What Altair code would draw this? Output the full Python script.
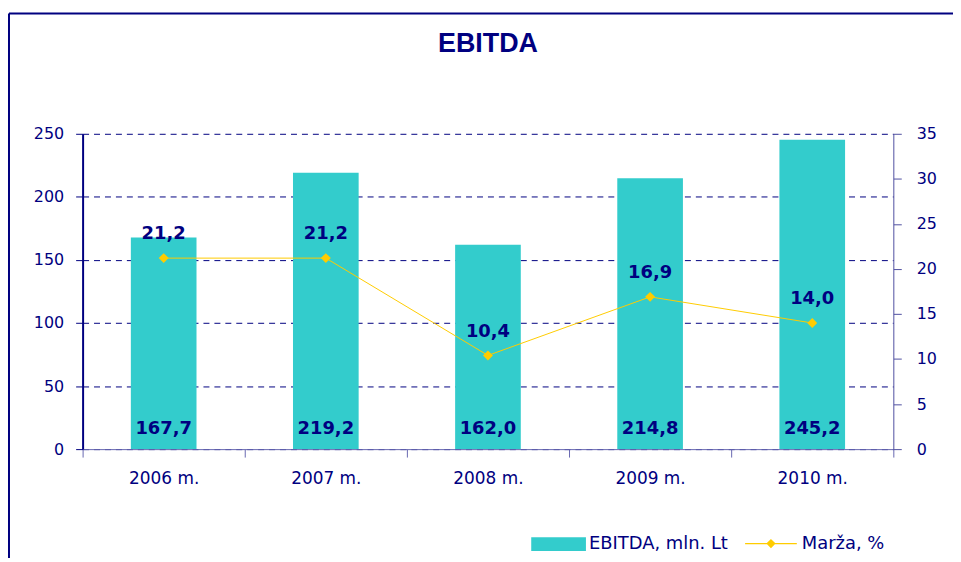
import altair as alt
import pandas as pd

NAVY = "#000080"
TEAL = "#33CCCC"
GOLD = "#FFCC00"

years = ["2006 m.", "2007 m.", "2008 m.", "2009 m.", "2010 m."]
ebitda = [167.7, 219.2, 162.0, 214.8, 245.2]
margin = [21.2, 21.2, 10.4, 16.9, 14.0]
left_ticks = [0, 50, 100, 150, 200, 250]
right_ticks = [0, 5, 10, 15, 20, 25, 30, 35]
series_bar = "EBITDA, mln. Lt"
series_line = "Marža, %"

df = pd.DataFrame({"year": years, "ebitda": ebitda, "margin": margin})
df["ebitda_label"] = [f"{v:.1f}".replace(".", ",") for v in ebitda]
df["margin_label"] = [f"{v:.1f}".replace(".", ",") for v in margin]
df["base"] = 0
df["s1"] = series_bar
df["s2"] = series_line

x = alt.X(
    "year:N", sort=years,
    scale=alt.Scale(paddingInner=0, paddingOuter=0),
    axis=alt.Axis(title=None, labelAngle=0, tickBand="extent", tickSize=8,
                  labelPadding=14, domainColor="#6868B0", tickColor="#6868B0",
                  labelColor=NAVY, labelFont="DejaVu Sans", labelFontSize=17),
)

yl_scale = alt.Scale(domain=[0, 250], nice=False)
yr_scale = alt.Scale(domain=[0, 35], nice=False)

left_axis = alt.Axis(title=None, orient="left", values=left_ticks, grid=True,
                     gridDash=[6, 5], gridColor=NAVY, gridWidth=1,
                     domain=True, domainColor=NAVY, domainWidth=2,
                     domainOpacity=1,
                     tickColor=NAVY, tickSize=7,
                     labelPadding=12, labelColor=NAVY,
                     labelFont="DejaVu Sans", labelFontSize=16)
right_axis = alt.Axis(title=None, orient="right", values=right_ticks, grid=False,
                      domainColor="#5050A0", tickColor="#5050A0", tickSize=8,
                      labelPadding=15, labelColor=NAVY,
                      labelFont="DejaVu Sans", labelFontSize=16)

base = alt.Chart(df)

bars = base.mark_bar(size=66).encode(
    x=x,
    y=alt.Y("ebitda:Q", scale=yl_scale, axis=left_axis),
    y2="base:Q",
    color=alt.Color("s1:N", scale=alt.Scale(domain=[series_bar], range=[TEAL]),
                    legend=alt.Legend(orient="none", legendX=451, legendY=385,
                                      title=None, symbolType="M-1,-0.25H1V0.25H-1Z",
                                      symbolSize=3025, symbolStrokeWidth=0,
                                      labelFontSize=18, labelColor=NAVY,
                                      labelFont="DejaVu Sans", labelOffset=3,
                                      padding=0)),
)

bar_text = base.mark_text(font="DejaVu Sans", fontWeight="bold", fontSize=18,
                          color=NAVY, dy=-20).encode(
    x=x,
    y=alt.Y("base:Q", scale=yl_scale, axis=left_axis),
    text="ebitda_label:N",
)

line = base.mark_line(color=GOLD, strokeWidth=1).encode(
    x=x,
    y=alt.Y("margin:Q", scale=yr_scale, axis=right_axis),
)

points = base.mark_point(shape="diamond", filled=True, size=100, opacity=1).encode(
    x=x,
    y=alt.Y("margin:Q", scale=yr_scale, axis=right_axis),
    fill=alt.Fill("s2:N", scale=alt.Scale(domain=[series_line], range=[GOLD]),
                  legend=alt.Legend(orient="none", legendX=666, legendY=386,
                                    title=None,
                                    symbolType="M-1,-0.02H1V0.02H-1ZM0,-0.18L0.18,0L0,0.18L-0.18,0Z",
                                    symbolSize=2704, symbolStrokeWidth=0,
                                    symbolOpacity=1,
                                    labelFontSize=18, labelColor=NAVY,
                                    labelFont="DejaVu Sans", labelOffset=5,
                                    padding=0)),
)

line_text = base.mark_text(font="DejaVu Sans", fontWeight="bold", fontSize=18,
                           color=NAVY, dy=-24).encode(
    x=x,
    y=alt.Y("margin:Q", scale=yr_scale, axis=right_axis),
    text="margin_label:N",
)

left = alt.layer(bars, bar_text)
right = alt.layer(line, points, line_text)

frame_df = pd.DataFrame({"k": [0]})
frame_left = alt.Chart(frame_df).mark_rule(color=NAVY, strokeWidth=2).encode(
    x=alt.value(-74), y=alt.value(-121), y2=alt.value(600))
frame_top = alt.Chart(frame_df).mark_rule(color=NAVY, strokeWidth=2).encode(
    x=alt.value(-74), x2=alt.value(1000), y=alt.value(-121))

chart = alt.layer(left, right, frame_left, frame_top).resolve_scale(
    y="independent", color="independent", fill="independent"
).properties(
    width=815, height=317,
    title=alt.TitleParams("EBITDA", font="Liberation Sans", fontSize=27,
                          fontWeight="bold", color=NAVY, anchor="middle", offset=-46),
    autosize=alt.AutoSizeParams(type="none"),
    padding={"left": 75, "top": 125, "right": 60, "bottom": 108},
).configure_view(stroke=None)

chart.save("out.html", embed_options={"renderer": "svg", "actions": False})
